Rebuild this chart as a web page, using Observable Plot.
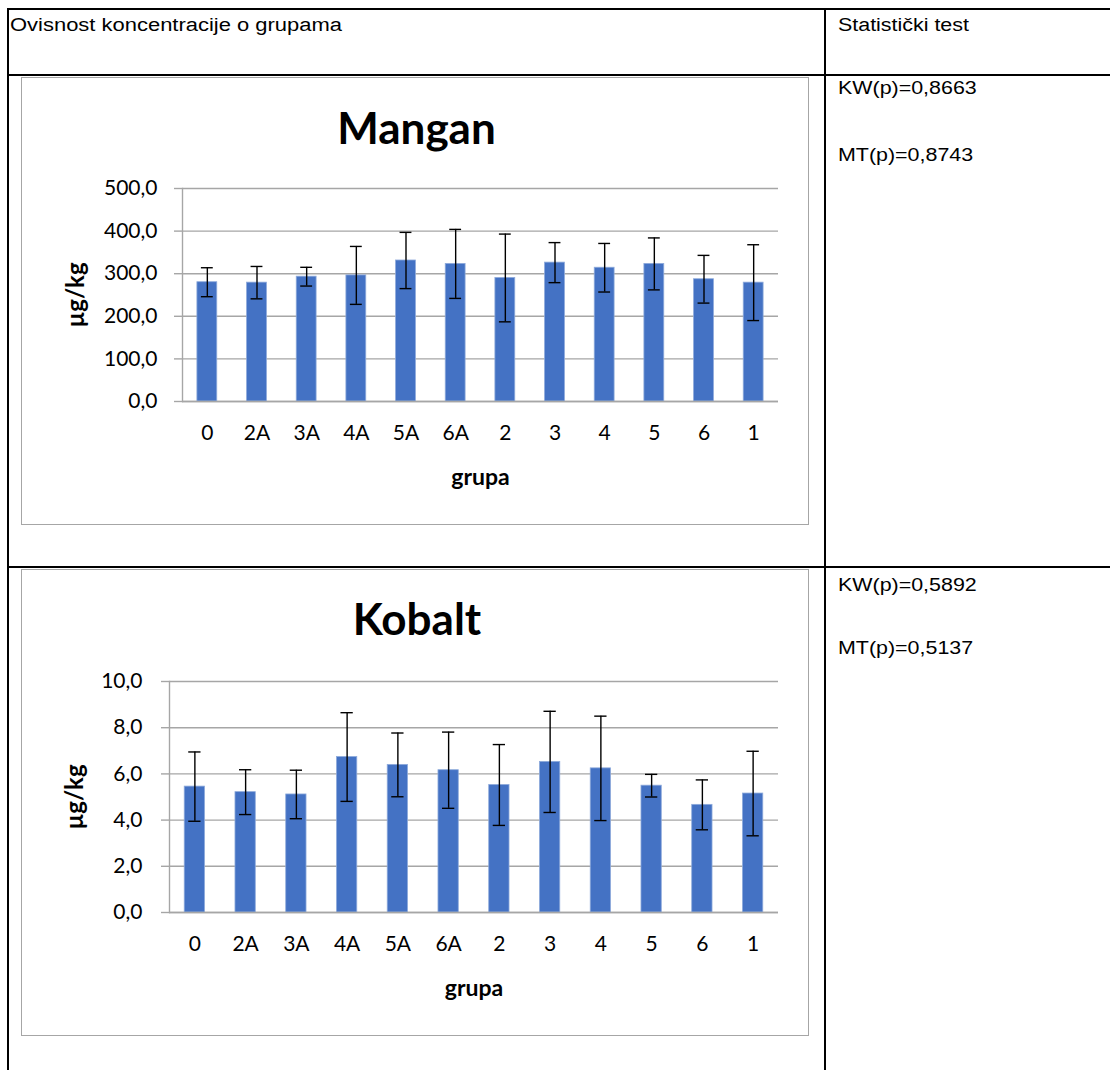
<!DOCTYPE html>
<html><head><meta charset="utf-8">
<script src="https://cdn.jsdelivr.net/npm/d3@7"></script>
<script src="https://cdn.jsdelivr.net/npm/@observablehq/plot@0.6"></script>
<style>
body{margin:0;background:#fff;width:1110px;height:1070px;position:relative;overflow:hidden;font-family:"Liberation Sans",Arial,sans-serif;}
.ln{position:absolute;background:#000;}
.cell{position:absolute;font-size:18px;color:#000;white-space:nowrap;line-height:1;transform:scaleX(1.19);transform-origin:0 0;}
.box{position:absolute;border:1px solid #a6a6a6;box-sizing:border-box;background:#fff;}
.box svg{display:block;}
</style></head><body>
<div class="ln" style="left:7px;top:8px;width:1103px;height:2px"></div>
<div class="ln" style="left:7px;top:8px;width:2px;height:1062px"></div>
<div class="ln" style="left:824px;top:8px;width:2px;height:1062px"></div>
<div class="ln" style="left:7px;top:74px;width:1103px;height:2px"></div>
<div class="ln" style="left:7px;top:566px;width:1103px;height:2px"></div>
<div class="cell" style="left:10px;top:16px;transform:scaleX(1.22)">Ovisnost koncentracije o grupama</div>
<div class="cell" style="left:838px;top:16px">Statistički test</div>
<div class="cell" id="kw1" style="left:838px;top:79px"></div>
<div class="cell" id="mt1" style="left:838px;top:146px"></div>
<div class="cell" id="kw2" style="left:838px;top:576px"></div>
<div class="cell" id="mt2" style="left:838px;top:639px"></div>
<div class="box" id="c1" style="left:21px;top:77px;width:788px;height:448px"></div>
<div class="box" id="c2" style="left:21px;top:569px;width:788px;height:467px"></div>
<script>
const groups = ["0","2A","3A","4A","5A","6A","2","3","4","5","6","1"];
const manganMean = [280,279,293,296,331,323,290,326,314,323,287,279];
const manganSD   = [34,38,22,68,66,81,103,47,57,61,56,89];
const manganTicks = [0,100,200,300,400,500];
const kobaltMean = [5.45,5.21,5.11,6.73,6.39,6.16,5.52,6.52,6.24,5.49,4.66,5.15];
const kobaltSD   = [1.50,0.97,1.05,1.92,1.38,1.65,1.75,2.19,2.26,0.49,1.08,1.83];
const kobaltTicks = [0,2,4,6,8,10];
const tests = [
  {kw:"KW(p)=0,8663", mt:"MT(p)=0,8743"},
  {kw:"KW(p)=0,5892", mt:"MT(p)=0,5137"}
];
document.getElementById("kw1").textContent = tests[0].kw;
document.getElementById("mt1").textContent = tests[0].mt;
document.getElementById("kw2").textContent = tests[1].kw;
document.getElementById("mt2").textContent = tests[1].mt;

const FONT = "Lato, 'Open Sans', sans-serif";
const GRID = "#a6a6a6";
const fmt = d => d.toFixed(1).replace(".", ",");

function chart({title, means, sds, ticks, width, height, ml, mr, mt, mb, titleDx, titleDy, ylabDx, yPad}) {
  const data = groups.map((g,i) => ({g, v: means[i], lo: means[i]-sds[i], hi: means[i]+sds[i]}));
  return Plot.plot({
    width, height,
    marginLeft: ml, marginRight: mr, marginTop: mt, marginBottom: mb,
    style: {fontFamily: FONT, fontSize: "21px", color: "#000", background: "transparent", overflow: "visible"},
    x: {domain: groups, paddingInner: 0.6, paddingOuter: 0.3, round: false, label: null},
    y: {domain: [ticks[0], ticks[ticks.length-1]], label: null},
    marks: [
      Plot.gridY(ticks, {stroke: GRID, strokeOpacity: 1, strokeWidth: 1.4}),
      Plot.axisY(ticks, {tickSize: 8, tickPadding: yPad, stroke: GRID, strokeWidth: 1.4, tickFormat: fmt, fill: "#000", label: null}),
      Plot.frame({anchor: "left", stroke: GRID, strokeWidth: 1.4}),
      Plot.barY(data, {x: "g", y: "v", fill: "#4472C4", stroke: "#8eaadb", strokeWidth: 0.8}),
      Plot.ruleY([0], {stroke: GRID, strokeWidth: 1.4}),
      Plot.ruleX(data, {x: "g", y1: "lo", y2: "hi", stroke: "#000", strokeWidth: 1.4}),
      Plot.tickY(data, {x: "g", y: "lo", stroke: "#000", strokeWidth: 1.4, insetLeft: 4, insetRight: 4}),
      Plot.tickY(data, {x: "g", y: "hi", stroke: "#000", strokeWidth: 1.4, insetLeft: 4, insetRight: 4}),
      Plot.axisX({tickSize: 0, tickPadding: 24, fill: "#000", label: null}),
      Plot.text([title], {frameAnchor: "top", lineAnchor: "top", dx: titleDx, dy: titleDy, fontSize: 44, fontWeight: "bold", fill: "#000"}),
      Plot.text(["grupa"], {frameAnchor: "bottom", lineAnchor: "middle", dx: 0, dy: 76, fontSize: 23, fontWeight: "bold", fill: "#000"}),
      Plot.text(["µg/kg"], {frameAnchor: "left", textAnchor: "middle", lineAnchor: "middle", dx: ylabDx, rotate: -90, fontSize: 24, fontWeight: "bold", fill: "#000"})
    ]
  });
}

document.getElementById("c1").appendChild(chart({
  title: "Mangan", means: manganMean, sds: manganSD, ticks: manganTicks,
  width: 786, height: 446, ml: 160, mr: 30, mt: 110, mb: 123,
  titleDx: -64, titleDy: -76, ylabDx: -106, yPad: 17
}));
document.getElementById("c2").appendChild(chart({
  title: "Kobalt", means: kobaltMean, sds: kobaltSD, ticks: kobaltTicks,
  width: 786, height: 465, ml: 147, mr: 30, mt: 111, mb: 123,
  titleDx: -57, titleDy: -78, ylabDx: -94, yPad: 19
}));
</script>
</body></html>
